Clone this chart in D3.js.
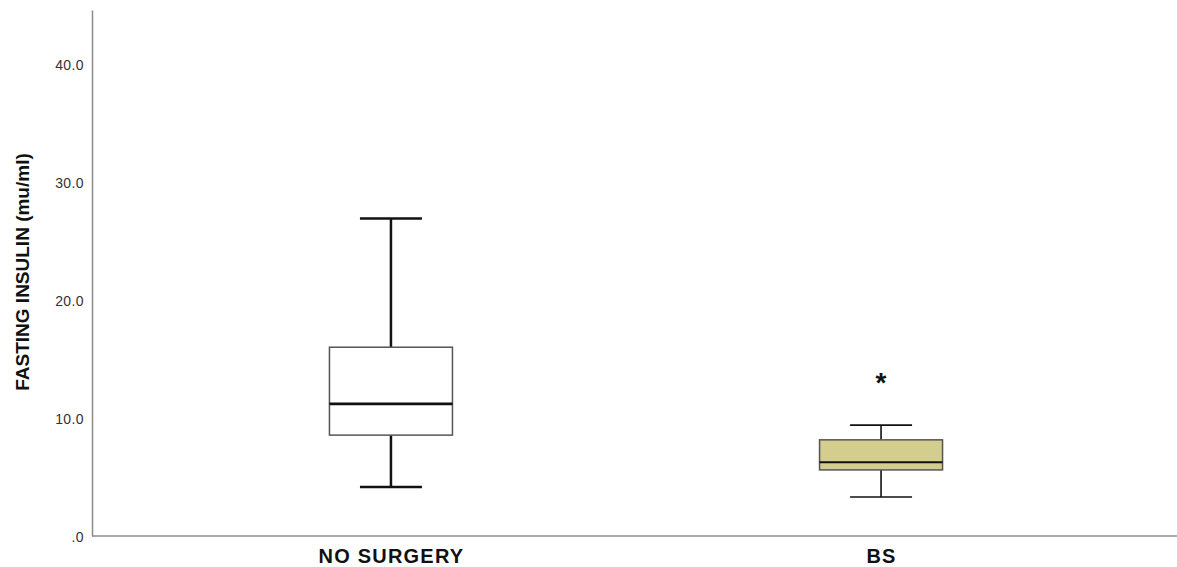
<html>
<head>
<meta charset="UTF-8">
<script src="https://cdn.jsdelivr.net/npm/d3@7/dist/d3.min.js"></script>
<style>
  body { margin: 0; background: #ffffff; }
  #container { width: 1177px; height: 567px; }
  text { font-family: Arial, "Liberation Sans", sans-serif; }
</style>
</head>
<body>
<div id="container"></div>
<script type="text/javascript">
// box plot data
const groups = ['NO SURGERY', 'BS']
const whiskerLow = [4.15, 3.3]
const q1 = [8.55, 5.6]
const median = [11.2, 6.25]
const q3 = [16.0, 8.15]
const whiskerHigh = [26.9, 9.4]
const outliers = [[], [13.45]]
const fills = ['#ffffff', '#d3cd8e']
const lineW = [2.5, 1.6]
const yTicks = [0, 10, 20, 30, 40]

const chartW = 1177, chartH = 567
const padLeft = 92, axisBottom = 536, axisTop = 10

const svg = d3.select('#container').append('svg')
    .attr('width', chartW)
    .attr('height', chartH)

const yScale = d3.scaleLinear()
    .domain([0, 44.58])
    .range([axisBottom, axisTop])

const xScale = d3.scalePoint()
    .domain(groups)
    .range([padLeft, 1180])
    .padding(0.61)

// y axis
const yAxis = d3.axisLeft(yScale)
    .tickValues(yTicks)
    .tickSize(0)
    .tickPadding(8)
    .tickFormat(d => d === 0 ? '.0' : d3.format('.1f')(d))
const gy = svg.append('g')
    .attr('transform', `translate(${padLeft},0)`)
    .call(yAxis)
gy.select('.domain').attr('stroke', '#8c8c8c').attr('stroke-width', 1.5)
gy.selectAll('.tick text')
    .attr('dy', '0.36em')
    .style('font-size', '14px')
    .style('letter-spacing', '0.4px')
    .attr('fill', '#333')
    .attr('font-family', 'Arial, "Liberation Sans", sans-serif')

// x axis
const xAxis = d3.axisBottom(xScale).tickSize(0)
const gx = svg.append('g')
    .attr('transform', `translate(0,${axisBottom})`)
    .call(xAxis)
gx.select('.domain')
    .attr('d', `M${padLeft},0H${chartW}`)
    .attr('stroke', '#8c8c8c').attr('stroke-width', 1.5)
gx.selectAll('.tick text')
    .attr('y', 27)
    .attr('dy', 0)
    .style('font-size', '20px')
    .style('font-weight', 'bold')
    .style('letter-spacing', '1.2px')
    .attr('fill', '#111')
    .attr('font-family', 'Arial, "Liberation Sans", sans-serif')

// y label
svg.append('text')
    .attr('transform', `translate(29,272) rotate(-90)`)
    .attr('text-anchor', 'middle')
    .style('font-size', '19px')
    .style('font-weight', 'bold')
    .attr('fill', '#111')
    .text('FASTING INSULIN (mu/ml)')

const boxHalf = 61.5, capHalf = 31

groups.forEach((g, i) => {
    const cx = xScale(g)
    const grp = svg.append('g')
    // whiskers
    grp.append('line')
        .attr('x1', cx).attr('x2', cx)
        .attr('y1', yScale(whiskerHigh[i])).attr('y2', yScale(q3[i]))
        .attr('stroke', '#111').attr('stroke-width', lineW[i])
    grp.append('line')
        .attr('x1', cx).attr('x2', cx)
        .attr('y1', yScale(q1[i])).attr('y2', yScale(whiskerLow[i]))
        .attr('stroke', '#111').attr('stroke-width', lineW[i])
    ;[whiskerHigh[i], whiskerLow[i]].forEach(v => {
        grp.append('line')
            .attr('x1', cx - capHalf).attr('x2', cx + capHalf)
            .attr('y1', yScale(v)).attr('y2', yScale(v))
            .attr('stroke', '#111').attr('stroke-width', lineW[i])
    })
    // box
    grp.append('rect')
        .attr('x', cx - boxHalf)
        .attr('y', yScale(q3[i]))
        .attr('width', boxHalf * 2)
        .attr('height', yScale(q1[i]) - yScale(q3[i]))
        .attr('fill', fills[i])
        .attr('stroke', '#555')
        .attr('stroke-width', 1.5)
    // median
    grp.append('line')
        .attr('x1', cx - boxHalf).attr('x2', cx + boxHalf)
        .attr('y1', yScale(median[i])).attr('y2', yScale(median[i]))
        .attr('stroke', '#111').attr('stroke-width', lineW[i] + 0.3)
    // extreme outliers
    outliers[i].forEach(v => {
        grp.append('text')
            .attr('x', cx)
            .attr('y', yScale(v) + 15)
            .attr('text-anchor', 'middle')
            .style('font-size', '28px')
            .style('font-weight', 'bold')
            .attr('fill', '#111')
            .text('*')
    })
})
</script>
</body>
</html>
